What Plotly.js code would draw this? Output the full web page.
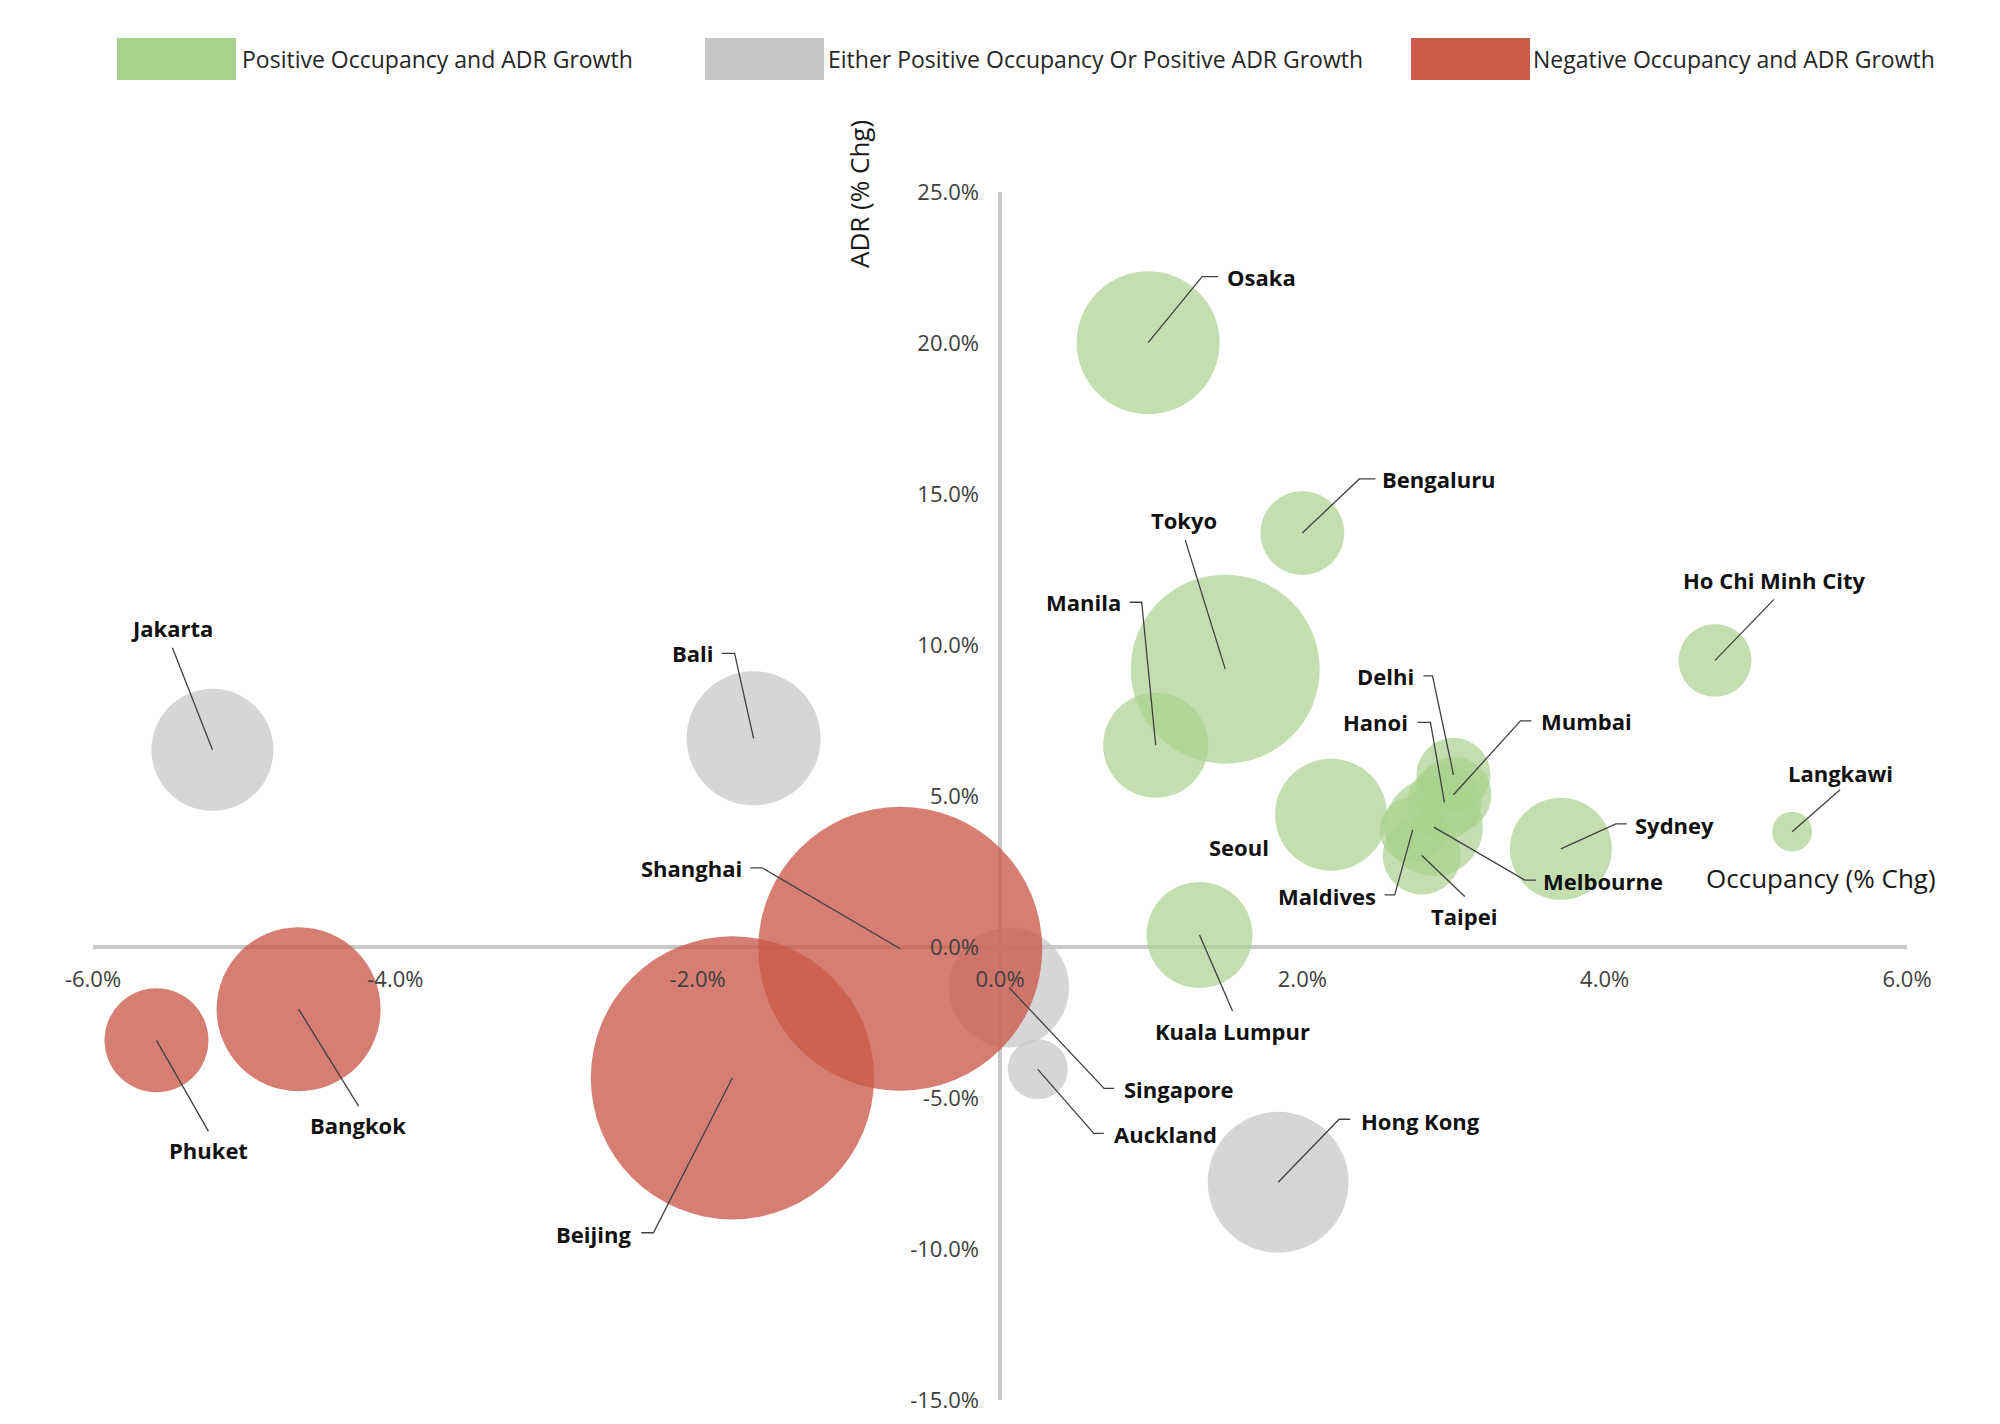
<!DOCTYPE html>
<html>
<head>
<meta charset="utf-8">
<script src="https://cdn.plot.ly/plotly-3.0.1.min.js"></script>
<style>html,body{margin:0;padding:0;background:#fff;}</style>
</head>
<body>
<div id="chart" style="width:2000px;height:1424px;"></div>
<script>
// ---------------- DATA ----------------
const cities = ['Hong Kong','Singapore','Auckland','Jakarta','Bali',
  'Osaka','Bengaluru','Tokyo','Manila','Ho Chi Minh City','Delhi','Mumbai','Hanoi',
  'Melbourne','Maldives','Taipei','Seoul','Sydney','Langkawi','Kuala Lumpur',
  'Shanghai','Beijing','Bangkok','Phuket'];
const occupancyChg = [1.84, 0.06, 0.25, -5.21, -1.63,
  0.98, 2.00, 1.49, 1.03, 4.73, 3.00, 3.00, 2.94,
  2.87, 2.73, 2.79, 2.19, 3.71, 5.24, 1.32,
  -0.66, -1.77, -4.64, -5.58];
const adrChg = [-7.79, -1.34, -4.05, 6.53, 6.91,
  20.01, 13.71, 9.20, 6.68, 9.49, 5.70, 5.04, 4.79,
  3.97, 3.88, 3.03, 4.38, 3.25, 3.82, 0.40,
  -0.06, -4.33, -2.06, -3.09];
const bubbleSize = [49.6, 36.0, 9.0, 37.2, 44.9,
  51.1, 17.6, 89.3, 27.6, 13.3, 13.7, 14.4, 13.7,
  24.0, 10.9, 15.2, 31.4, 26.0, 4.0, 28.1,
  201.6, 200.5, 67.2, 27.0];
const groupNames = ['Positive Occupancy and ADR Growth',
  'Either Positive Occupancy Or Positive ADR Growth',
  'Negative Occupancy and ADR Growth'];
const xTickVals = [-6, -4, -2, 0, 2, 4, 6];
const xTickLabels = ['-6.0%', '-4.0%', '-2.0%', '0.0%', '2.0%', '4.0%', '6.0%'];
const yTickVals = [-15, -10, -5, 0, 5, 10, 15, 20, 25];
const yTickLabels = ['-15.0%', '-10.0%', '-5.0%', '0.0%', '5.0%', '10.0%', '15.0%', '20.0%', '25.0%'];
const xTitle = 'Occupancy (% Chg)';
const yTitle = 'ADR (% Chg)';

// ---------------- STYLE ----------------
const W = 2000, H = 1424;
const M = {l: 93, r: 93, t: 192, b: 24, pad: 0};
const FONT = '"Open Sans", "Noto Sans", sans-serif';
const groupColors = ['#A9D18E', '#C6C6C6', '#CB5A4A'];
const groupOpacity = [0.7, 0.72, 0.78];
const drawOrder = [1, 0, 2];
const maxBubbleRadiusPx = 142;
// label placement: pixel offsets from bubble centre (dx right, dy down)
// pts = leader line points (after the centre), lx/ly = text anchor, a = anchor
const labelStyle = {
  'Osaka':            {pts: [[54,-66],[70,-66]],   lx: 77,   ly: -66, a: 'left'},
  'Bengaluru':        {pts: [[57,-54],[73,-54]],   lx: 78,   ly: -54, a: 'left'},
  'Tokyo':            {pts: [[-40,-129]],          lx: -41,  ly: -149, a: 'center'},
  'Manila':           {pts: [[-14,-143],[-26,-143]], lx: -33, ly: -143, a: 'right'},
  'Jakarta':          {pts: [[-40,-102]],          lx: -40,  ly: -122, a: 'center'},
  'Bali':             {pts: [[-19,-85],[-32,-85]], lx: -38,  ly: -85, a: 'right'},
  'Ho Chi Minh City': {pts: [[59,-61]],            lx: 59,   ly: -80, a: 'center'},
  'Delhi':            {pts: [[-21,-99],[-30,-99]], lx: -38,  ly: -99, a: 'right'},
  'Hanoi':            {pts: [[-14,-80],[-27,-80]], lx: -34,  ly: -80, a: 'right'},
  'Mumbai':           {pts: [[67,-74],[78,-74]],   lx: 85,   ly: -74, a: 'left'},
  'Sydney':           {pts: [[55,-25],[66,-25]],   lx: 72,   ly: -24, a: 'left'},
  'Melbourne':        {pts: [[91,53],[102,53]],    lx: 107,  ly: 54, a: 'left'},
  'Maldives':         {pts: [[-18,65],[-28,65]],   lx: -35,  ly: 66, a: 'right'},
  'Taipei':           {pts: [[43,41]],             lx: 42,   ly: 61, a: 'center'},
  'Seoul':            {pts: [],                    lx: -92,  ly: 32, a: 'center'},
  'Langkawi':         {pts: [[48,-42]],            lx: 48,   ly: -59, a: 'center'},
  'Kuala Lumpur':     {pts: [[33,76]],             lx: 33,   ly: 96, a: 'center'},
  'Singapore':        {pts: [[95,101],[105,101]],  lx: 113,  ly: 102, a: 'left'},
  'Auckland':         {pts: [[56,64],[66,64]],     lx: 74,   ly: 65, a: 'left'},
  'Hong Kong':        {pts: [[61,-63],[72,-63]],   lx: 81,   ly: -61, a: 'left'},
  'Shanghai':         {pts: [[-138,-81],[-150,-81]], lx: -156, ly: -81, a: 'right'},
  'Beijing':          {pts: [[-79,155],[-91,155]], lx: -99,  ly: 156, a: 'right'},
  'Bangkok':          {pts: [[60,97]],             lx: 59,   ly: 116, a: 'center'},
  'Phuket':           {pts: [[52,91]],             lx: 52,   ly: 110, a: 'center'}
};
const legendItems = [
  {swatchX: 117, textX: 240},
  {swatchX: 705, textX: 826},
  {swatchX: 1411, textX: 1531}
];
const legendSwatch = {y0: 38, y1: 80, w: 119, textY: 59};

// ---------------- BUILD ----------------
const pw = W - M.l - M.r, ph = H - M.t - M.b;
const pxX = px => (px - M.l) / pw;
const pxY = py => 1 - (py - M.t) / ph;

function groupOf(i) {
  if (occupancyChg[i] > 0 && adrChg[i] > 0) return 0;
  if (occupancyChg[i] < 0 && adrChg[i] < 0) return 2;
  return 1;
}
const sizeref = Math.max(...bubbleSize) / (2 * maxBubbleRadiusPx * maxBubbleRadiusPx);

const traces = drawOrder.map(g => {
  const idx = cities.map((c, i) => i).filter(i => groupOf(i) === g);
  return {
    type: 'scatter', mode: 'markers', name: groupNames[g],
    x: idx.map(i => occupancyChg[i]),
    y: idx.map(i => adrChg[i]),
    text: idx.map(i => cities[i]),
    marker: {size: idx.map(i => bubbleSize[i]), sizemode: 'area', sizeref: sizeref,
             color: groupColors[g], opacity: groupOpacity[g], line: {width: 0}},
    cliponaxis: false, showlegend: false, hoverinfo: 'text'
  };
});

const shapes = [];
const annotations = [];
cities.forEach((c, i) => {
  const s = labelStyle[c];
  if (s.pts.length) {
    let path = 'M0,0';
    s.pts.forEach(p => { path += ' L' + p[0] + ',' + (-p[1]); });
    shapes.push({type: 'path', xref: 'x', yref: 'y',
      xsizemode: 'pixel', ysizemode: 'pixel',
      xanchor: occupancyChg[i], yanchor: adrChg[i],
      path: path, line: {color: '#404040', width: 1.3}, layer: 'above'});
  }
  annotations.push({xref: 'x', yref: 'y', x: occupancyChg[i], y: adrChg[i],
    xshift: s.lx, yshift: -s.ly, xanchor: s.a, yanchor: 'middle',
    text: '<b>' + c + '</b>', showarrow: false,
    font: {family: FONT, size: 22, color: '#111111'}});
});

legendItems.forEach((it, g) => {
  shapes.push({type: 'rect', xref: 'paper', yref: 'paper',
    x0: pxX(it.swatchX), x1: pxX(it.swatchX + legendSwatch.w),
    y0: pxY(legendSwatch.y1), y1: pxY(legendSwatch.y0),
    fillcolor: groupColors[g], line: {width: 0}});
  annotations.push({xref: 'paper', yref: 'paper', x: pxX(it.textX), y: pxY(legendSwatch.textY),
    xanchor: 'left', yanchor: 'middle', showarrow: false, text: groupNames[g],
    font: {family: FONT, size: 23, color: '#262626'}});
});

annotations.push({xref: 'paper', yref: 'paper', x: pxX(859), y: pxY(194),
  xanchor: 'center', yanchor: 'middle', textangle: -90, showarrow: false,
  text: yTitle, font: {family: FONT, size: 26, color: '#1a1a1a'}});
annotations.push({xref: 'paper', yref: 'paper', x: pxX(1821), y: pxY(878),
  xanchor: 'center', yanchor: 'middle', showarrow: false,
  text: xTitle, font: {family: FONT, size: 26, color: '#1a1a1a'}});

const layout = {
  width: W, height: H, margin: M,
  paper_bgcolor: '#ffffff', plot_bgcolor: '#ffffff',
  showlegend: false, hovermode: false,
  xaxis: {range: [-6, 6], anchor: 'free', position: 15 / 40,
    showgrid: false, showline: false, zeroline: true, zerolinecolor: '#C8C8C8', zerolinewidth: 4,
    tickmode: 'array', tickvals: xTickVals, ticktext: xTickLabels, ticks: '',
    ticklabelstandoff: 17,
    tickfont: {family: FONT, size: 22, color: '#404040'}, fixedrange: true},
  yaxis: {range: [-15, 25], anchor: 'free', position: 0.5,
    showgrid: false, showline: false, zeroline: true, zerolinecolor: '#C8C8C8', zerolinewidth: 4,
    tickmode: 'array', tickvals: yTickVals, ticktext: yTickLabels, ticks: '',
    ticklabelstandoff: 21,
    tickfont: {family: FONT, size: 22, color: '#404040'}, fixedrange: true},
  shapes: shapes, annotations: annotations
};

Plotly.newPlot('chart', traces, layout, {displayModeBar: false, staticPlot: true});
</script>
</body>
</html>
